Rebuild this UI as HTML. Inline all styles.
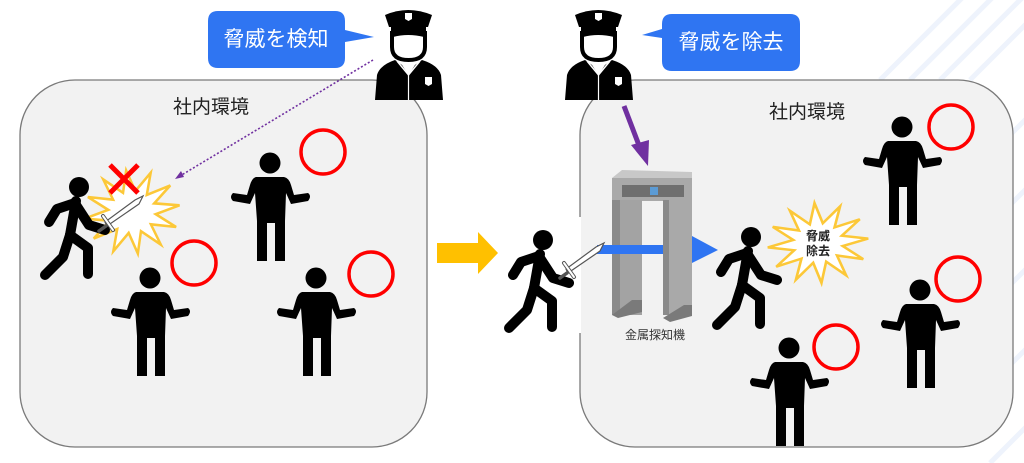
<!DOCTYPE html>
<html><head><meta charset="utf-8"><style>
body{margin:0;background:#fff;}
svg{display:block;font-family:"Liberation Sans","Noto Sans CJK JP",sans-serif;}
</style></head><body>
<svg width="1024" height="463" viewBox="0 0 1024 463" xmlns="http://www.w3.org/2000/svg">
<defs>
<g id="stand">
  <circle cx="0" cy="0" r="10.5" fill="#000"/>
  <path d="M-14,14 L14,14 Q19,15 21,22 L24,32 L38,30 Q42,33 38,38 L21,41 L16,30 L15,58 L15,98 L5,98 L5,60 L-3,60 L-3,98 L-13,98 L-13,58 L-15,30 L-20,41 L-37,38 Q-41,34 -37,30 L-23,32 L-20,22 Q-18,15 -14,14 Z" fill="#000"/>
</g>
<g id="run">
  <circle cx="0" cy="0" r="10" fill="#000"/>
  <g fill="none" stroke="#000" stroke-width="10" stroke-linecap="round" stroke-linejoin="round">
    <path d="M-3,14 L-9,48"/>
    <path d="M-4,16 L-22,22 L-30,35"/>
    <path d="M-3,18 L10,38 L26,43"/>
    <path d="M-9,48 L9,61 L9,87"/>
    <path d="M-9,48 L-16,70 L-34,88"/>
  </g>
</g>
<g id="burst">
  <polygon points="48,0 23.2,5.2 41.6,20 17,14.1 24,34.6 6.2,19.3 0,40 -6.2,19.3 -24,34.6 -17,14.1 -41.6,20 -23.2,5.2 -48,0 -23.2,-5.2 -41.6,-20 -17,-14.1 -24,-34.6 -6.2,-19.3 0,-40 6.2,-19.3 24,-34.6 17,-14.1 41.6,-20 23.2,-5.2" fill="#fff" stroke="#fcc838" stroke-width="2.5" stroke-linejoin="miter"/>
</g>
<g id="sword">
  <path d="M0,0 L32,-22 L36,-30 L28,-26 L-2,-4 Z" fill="#fff" stroke="#555" stroke-width="1.2"/>
  <path d="M-4,-10 L6,4" stroke="#555" stroke-width="4" stroke-linecap="round"/>
  <path d="M-4,-10 L6,4" stroke="#fff" stroke-width="2" stroke-linecap="round"/>
  <path d="M-1,0 L-8,5" stroke="#555" stroke-width="3.5" stroke-linecap="round"/>
</g>
<g id="police">
  <path d="M15,10 Q38,0 62,10 L60,16 L58,22 L19,22 L17,16 Z" fill="#000"/>
  <path d="M21,22 L56,22 L56,27 L21,27 Z" fill="#000"/>
  <path d="M35,8 L42,8 L42,14 L38.5,16 L35,14 Z" fill="#fff"/>
  <path d="M22,28 L55,28 L55,42 Q55,55 38.5,55 Q22,55 22,42 Z" fill="#fff" stroke="#000" stroke-width="4"/>
  <path d="M23,32 Q38,28 54,32 L54,28 L23,28 Z" fill="#000"/>
  <path d="M25,55 Q10,60 7,70 L5,95 L73,95 L71,70 Q68,60 52,55 L45,60 L38.5,70 L32,60 Z" fill="#000"/>
  <path d="M27,56 L38.5,70 L50,56" fill="none" stroke="#fff" stroke-width="1.5"/>
  <path d="M38.5,70 L38.5,95" stroke="#fff" stroke-width="1.2"/>
  <path d="M55,72 L62,72 L62,79 L58.5,81 L55,79 Z" fill="#fff"/>
</g>
</defs>

<!-- faint background stripes top-right -->
<g stroke="#eef3fc" stroke-width="5">
  <line x1="880" y1="80" x2="970" y2="-10"/><line x1="910" y1="80" x2="1000" y2="-10"/>
  <line x1="940" y1="80" x2="1030" y2="-10"/><line x1="970" y1="80" x2="1060" y2="-10"/>
  <line x1="1005" y1="140" x2="1090" y2="55"/><line x1="1005" y1="210" x2="1090" y2="125"/>
  <line x1="1005" y1="290" x2="1090" y2="205"/><line x1="1005" y1="370" x2="1090" y2="285"/>
  <line x1="990" y1="463" x2="1080" y2="373"/>
</g>

<!-- boxes -->
<rect x="20" y="80" width="407" height="367" rx="55" fill="#f2f2f2" stroke="#7a7a7a" stroke-width="1.3"/>
<rect x="580" y="80" width="433" height="367" rx="55" fill="#f2f2f2" stroke="#7a7a7a" stroke-width="1.3"/>

<text x="211" y="113" font-size="19" text-anchor="middle" fill="#222">社内環境</text>
<text x="807" y="118" font-size="19" text-anchor="middle" fill="#222">社内環境</text>

<!-- left callout -->
<path d="M218,11 L335,11 Q345,11 345,21 L345,30 L374,37 L345,42 L345,58 Q345,68 335,68 L218,68 Q208,68 208,58 L208,21 Q208,11 218,11 Z" fill="#2f75f2"/>
<text x="276" y="46" font-size="21" text-anchor="middle" fill="#fff">脅威を検知</text>
<!-- right callout -->
<path d="M672,14 L790,14 Q800,14 800,24 L800,61 Q800,71 790,71 L672,71 Q662,71 662,61 L662,38 L642,35 L662,29 L662,24 Q662,14 672,14 Z" fill="#2f75f2"/>
<text x="731" y="49" font-size="21" text-anchor="middle" fill="#fff">脅威を除去</text>

<use href="#police" x="370" y="5"/>
<use href="#police" x="560" y="5"/>

<!-- dotted purple line -->
<line x1="373" y1="60" x2="180" y2="176" stroke="#7030a0" stroke-width="1.6" stroke-dasharray="2,2"/>
<polygon points="175,179 181,171 184,177" fill="#7030a0"/>

<!-- left scene -->
<use href="#burst" transform="translate(132,212) rotate(-8) scale(1,1.05)"/>
<use href="#run" x="79" y="187"/>
<use href="#sword" x="107" y="226"/>
<path d="M110,165 L138,193 M138,165 L110,193" stroke="#f00" stroke-width="5"/>

<use href="#stand" x="270" y="163"/>
<use href="#stand" x="150" y="278"/>
<use href="#stand" x="316" y="278"/>
<g fill="none" stroke="#f00" stroke-width="3.5">
  <circle cx="323" cy="152" r="22"/>
  <circle cx="194" cy="263" r="22"/>
  <circle cx="371" cy="274" r="22"/>
  <circle cx="951" cy="127" r="22"/>
  <circle cx="958" cy="279" r="22"/>
  <circle cx="836" cy="347" r="22"/>
</g>

<!-- yellow arrow -->
<polygon points="437,243 478,243 478,232 498,253 478,274 478,263 437,263" fill="#ffc000"/>

<!-- white patch interrupting right box border -->
<rect x="500" y="217" width="81" height="116" fill="#fff"/>

<!-- purple arrow right -->
<line x1="624" y1="106" x2="640" y2="148" stroke="#7030a0" stroke-width="5"/>
<polygon points="631,145 649,140 648,166" fill="#7030a0"/>

<!-- metal detector -->
<polygon points="612,178 622,170 692,172 692,178" fill="#c8c8c8"/>
<rect x="612" y="178" width="80" height="23" fill="#a9a9a9"/>
<rect x="622" y="185" width="62" height="12" fill="#6f6f6f"/>
<rect x="650" y="187" width="8" height="8" fill="#5b9bd5"/>
<rect x="612" y="200" width="30" height="115" fill="#a3a3a3"/>
<rect x="612" y="200" width="8" height="115" fill="#8a8a8a"/>
<polygon points="612,315 632,300 642,300 642,312 618,318" fill="#7a7a7a"/>
<!-- blue arrow -->
<rect x="597" y="245" width="66" height="9" fill="#2f75f2"/>
<rect x="663" y="200" width="29" height="115" fill="#a9a9a9"/>
<rect x="663" y="200" width="6" height="115" fill="#8a8a8a"/>
<polygon points="663,318 684,305 692,305 692,316 670,322" fill="#7a7a7a"/>
<polygon points="692,236 718,250 692,263" fill="#2f75f2"/>
<text x="655" y="339" font-size="12" text-anchor="middle" fill="#333">金属探知機</text>

<!-- middle runner -->
<use href="#run" x="543" y="240"/>
<use href="#sword" x="568" y="273"/>

<!-- right runner + burst -->
<use href="#burst" transform="translate(818,243) rotate(-5) scale(1.05,1)"/>
<text x="818" y="240" font-size="12" font-weight="bold" text-anchor="middle" fill="#222">脅威</text>
<text x="818" y="255" font-size="12" font-weight="bold" text-anchor="middle" fill="#222">除去</text>
<use href="#run" x="751" y="237"/>

<use href="#stand" x="902" y="127"/>
<use href="#stand" x="920" y="290"/>
<use href="#stand" x="789" y="348"/>
</svg>
</body></html>
